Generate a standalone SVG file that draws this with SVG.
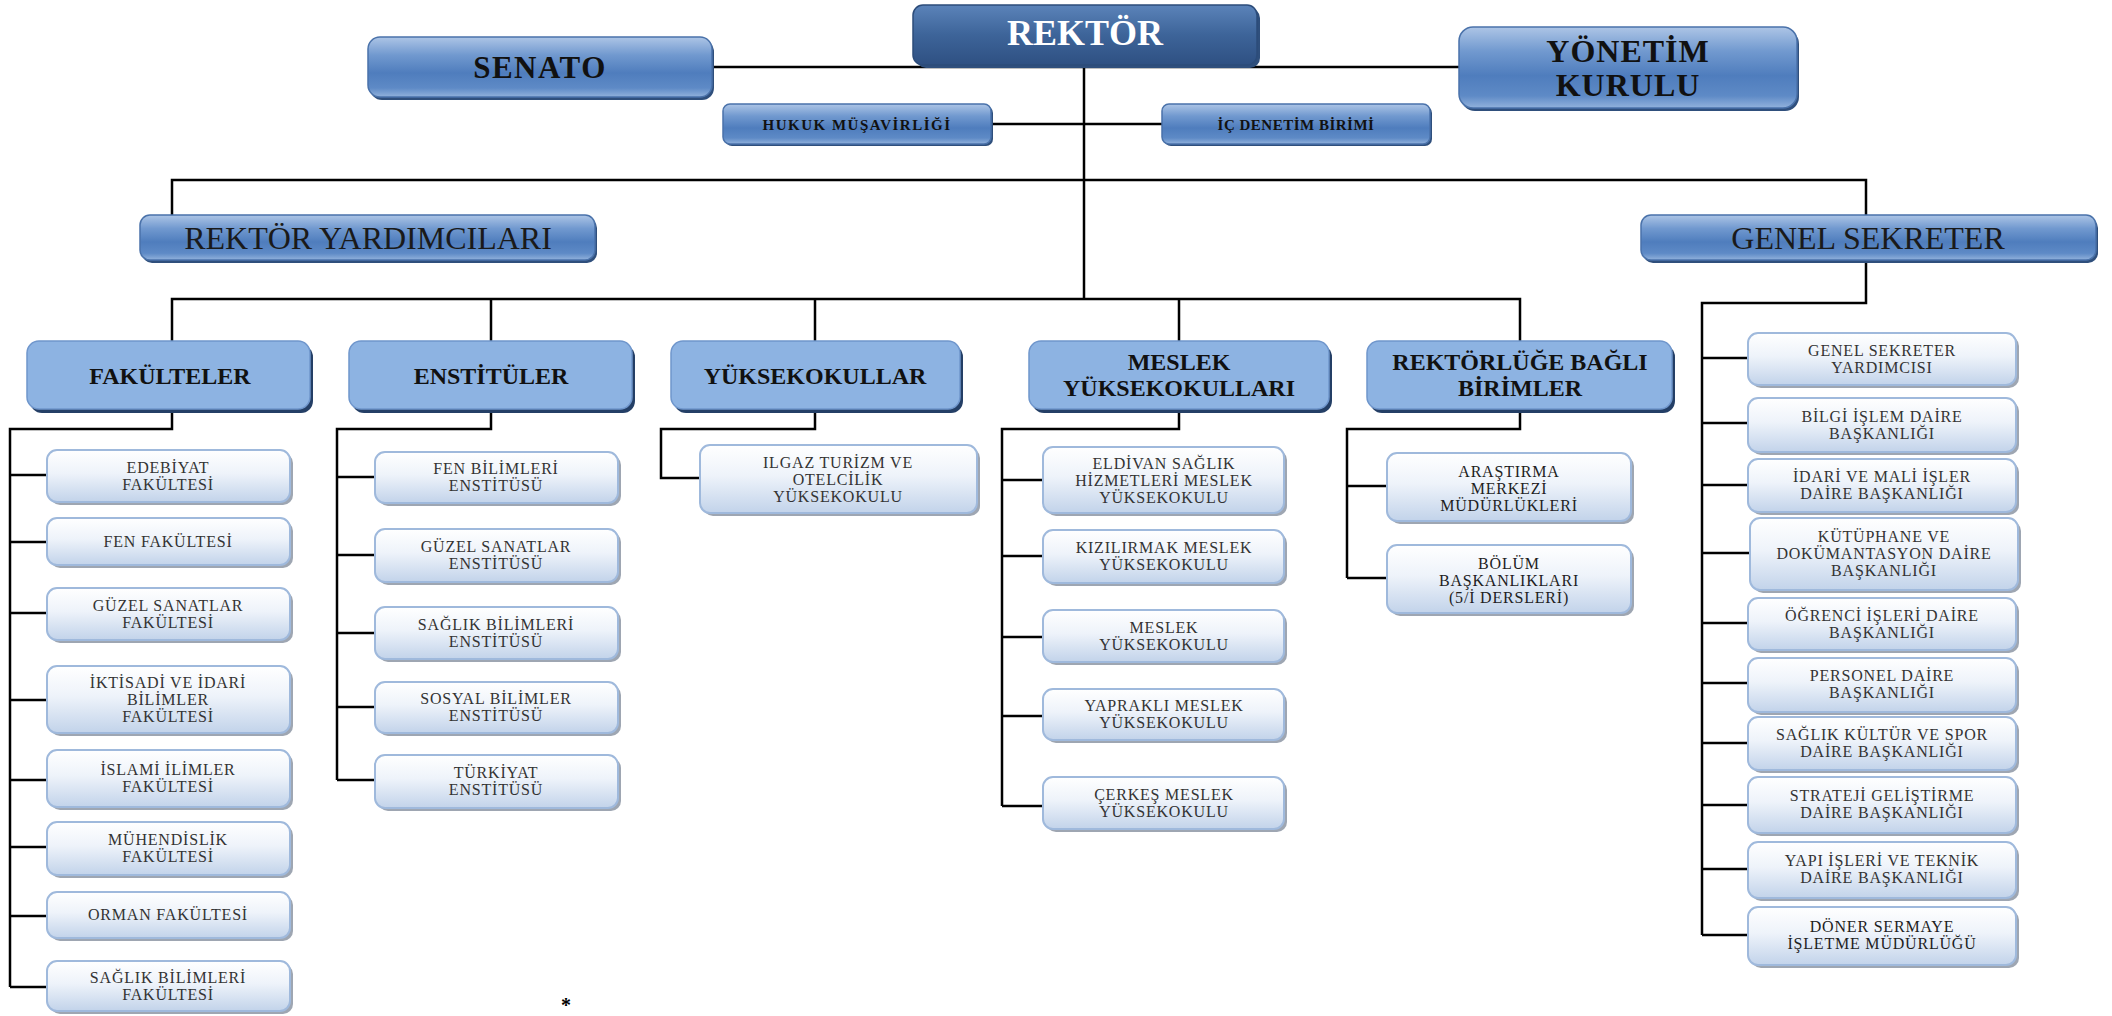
<svg xmlns="http://www.w3.org/2000/svg" width="2112" height="1016" viewBox="0 0 2112 1016" font-family="'Liberation Serif', 'DejaVu Serif', serif">
<defs>
<linearGradient id="gTop" x1="0" y1="0" x2="0" y2="1">
<stop offset="0" stop-color="#adc5e6"/><stop offset="0.3" stop-color="#7199cf"/><stop offset="0.6" stop-color="#4f7dbd"/><stop offset="0.85" stop-color="#5e8ac6"/><stop offset="1" stop-color="#92b2dc"/>
</linearGradient>
<linearGradient id="gRek" x1="0" y1="0" x2="0" y2="1">
<stop offset="0" stop-color="#5b83b9"/><stop offset="0.5" stop-color="#3d6499"/><stop offset="1" stop-color="#2e5082"/>
</linearGradient>
<linearGradient id="gSub" x1="0" y1="0" x2="0" y2="1">
<stop offset="0" stop-color="#ffffff"/><stop offset="0.45" stop-color="#eef3fa"/><stop offset="1" stop-color="#c2d3ea"/>
</linearGradient>
<style>
.topb{fill:url(#gTop);stroke:#4a72aa;stroke-width:1.5}
.rekb{fill:url(#gRek);stroke:#2c4c7a;stroke-width:1.5}
.tsh{fill:#2f4f7c}
.hdr{fill:#8db3e2;stroke:#6f96cc;stroke-width:1.5}
.hsh{fill:#243f66}
.sub{fill:url(#gSub);stroke:#9fb9dc;stroke-width:2}
.ssh{fill:#9ea6b2}
.ln{fill:none;stroke:#000;stroke-width:2.5}
text{font-family:'Liberation Serif','DejaVu Serif',serif;text-anchor:middle}
.tb{font-weight:bold;fill:#111}
.tr{fill:#1a1a1a}
.ts{font-size:16px;fill:#333;letter-spacing:0.8px}
.tsd{font-size:16px;fill:#1e1e1e;letter-spacing:0.8px}
</style>
</defs>
<rect width="2112" height="1016" fill="#ffffff"/>

<g id="connectors">
<path class="ln" d="M712 67 H1459"/>
<path class="ln" d="M1084 65 V299"/>
<path class="ln" d="M991 124 H1162"/>
<path class="ln" d="M172 215 V180 H1866 V215"/>
<path class="ln" d="M172 341 V299 H1520 V341 M491 299 V341 M815 299 V341 M1179 299 V341"/>
<path class="ln" d="M172 409 V429 H10 V987 M10 475 H47 M10 542 H47 M10 613 H47 M10 700 H47 M10 780 H47 M10 847 H47 M10 916 H47 M10 987 H47"/>
<path class="ln" d="M491 409 V429 H337 V780 M337 477 H375 M337 555 H375 M337 633 H375 M337 707 H375 M337 780 H375"/>
<path class="ln" d="M815 409 V429 H661 V478 H700"/>
<path class="ln" d="M1179 409 V429 H1002 V806 M1002 480 H1043 M1002 556 H1043 M1002 637 H1043 M1002 716 H1043 M1002 806 H1043"/>
<path class="ln" d="M1520 409 V429 H1347 V578 M1347 486 H1387 M1347 578 H1387"/>
<path class="ln" d="M1866 260 V303 H1702 V935 M1702 358 H1748 M1702 423 H1748 M1702 485 H1748 M1702 553 H1750 M1702 623 H1748 M1702 683 H1748 M1702 743 H1748 M1702 805 H1748 M1702 869 H1748 M1702 935 H1748"/>
</g>

<g id="rektor"><rect class="tsh" x="916" y="8" width="344" height="60" rx="10"/><rect class="rekb" x="913" y="5" width="344" height="60" rx="10"/><text x="1085" y="45" font-size="36" font-weight="bold" fill="#ffffff">REKTÖR</text></g>
<g id="senato"><rect class="tsh" x="370" y="40" width="344" height="60" rx="12"/><rect class="topb" x="368" y="37" width="344" height="60" rx="12"/><text class="tb" x="540" y="78" font-size="31" letter-spacing="1.5">SENATO</text></g>
<g id="yonetim"><rect class="tsh" x="1461" y="30" width="338" height="81" rx="14"/><rect class="topb" x="1459" y="27" width="338" height="81" rx="14"/><text class="tb" x="1628" y="62" font-size="32" letter-spacing="1">YÖNETİM</text><text class="tb" x="1628" y="96" font-size="32" letter-spacing="1">KURULU</text></g>
<g id="hukuk"><rect class="tsh" x="725" y="106" width="268" height="40" rx="7"/><rect class="topb" x="723" y="104" width="268" height="40" rx="7"/><text class="tb" x="857" y="130" font-size="15" letter-spacing="1.5">HUKUK MÜŞAVİRLİĞİ</text></g>
<g id="icdenetim"><rect class="tsh" x="1164" y="106" width="268" height="40" rx="7"/><rect class="topb" x="1162" y="104" width="268" height="40" rx="7"/><text class="tb" x="1296" y="130" font-size="15" letter-spacing="0.5">İÇ DENETİM BİRİMİ</text></g>
<g id="rektoryard"><rect class="tsh" x="142" y="218" width="455" height="45" rx="10"/><rect class="topb" x="140" y="215" width="455" height="45" rx="10"/><text class="tr" x="368" y="249" font-size="32">REKTÖR YARDIMCILARI</text></g>
<g id="genelsek"><rect class="tsh" x="1643" y="218" width="455" height="45" rx="10"/><rect class="topb" x="1641" y="215" width="455" height="45" rx="10"/><text class="tr" x="1868" y="249" font-size="32">GENEL SEKRETER</text></g>

<g id="fakulteler"><rect class="hsh" x="30" y="345" width="283" height="68" rx="12"/><rect class="hdr" x="27" y="341" width="283" height="68" rx="12"/><text class="tb" x="170" y="384" font-size="24">FAKÜLTELER</text></g>
<g id="enstituler"><rect class="hsh" x="352" y="345" width="283" height="68" rx="12"/><rect class="hdr" x="349" y="341" width="283" height="68" rx="12"/><text class="tb" x="491" y="384" font-size="24">ENSTİTÜLER</text></g>
<g id="yuksekokullar"><rect class="hsh" x="674" y="345" width="289" height="68" rx="12"/><rect class="hdr" x="671" y="341" width="289" height="68" rx="12"/><text class="tb" x="815" y="384" font-size="24">YÜKSEKOKULLAR</text></g>
<g id="meslekyo"><rect class="hsh" x="1032" y="345" width="300" height="68" rx="12"/><rect class="hdr" x="1029" y="341" width="300" height="68" rx="12"/><text class="tb" x="1179" y="370" font-size="24">MESLEK</text><text class="tb" x="1179" y="396" font-size="24">YÜKSEKOKULLARI</text></g>
<g id="rektorluge"><rect class="hsh" x="1370" y="345" width="305" height="68" rx="12"/><rect class="hdr" x="1367" y="341" width="305" height="68" rx="12"/><text class="tb" x="1520" y="370" font-size="24">REKTÖRLÜĞE BAĞLI</text><text class="tb" x="1520" y="396" font-size="24">BİRİMLER</text></g>

<g id="f1"><rect class="ssh" x="50" y="453" width="243" height="52" rx="10"/><rect class="sub" x="47" y="450" width="243" height="52" rx="10"/><text class="ts" x="168" y="473">EDEBİYAT</text><text class="ts" x="168" y="490">FAKÜLTESİ</text></g>
<g id="f2"><rect class="ssh" x="50" y="521" width="243" height="47" rx="10"/><rect class="sub" x="47" y="518" width="243" height="47" rx="10"/><text class="ts" x="168" y="547">FEN FAKÜLTESİ</text></g>
<g id="f3"><rect class="ssh" x="50" y="591" width="243" height="52" rx="10"/><rect class="sub" x="47" y="588" width="243" height="52" rx="10"/><text class="ts" x="168" y="611">GÜZEL SANATLAR</text><text class="ts" x="168" y="628">FAKÜLTESİ</text></g>
<g id="f4"><rect class="ssh" x="50" y="669" width="243" height="67" rx="10"/><rect class="sub" x="47" y="666" width="243" height="67" rx="10"/><text class="ts" x="168" y="688">İKTİSADİ VE İDARİ</text><text class="ts" x="168" y="705">BİLİMLER</text><text class="ts" x="168" y="722">FAKÜLTESİ</text></g>
<g id="f5"><rect class="ssh" x="50" y="753" width="243" height="57" rx="10"/><rect class="sub" x="47" y="750" width="243" height="57" rx="10"/><text class="ts" x="168" y="775">İSLAMİ İLİMLER</text><text class="ts" x="168" y="792">FAKÜLTESİ</text></g>
<g id="f6"><rect class="ssh" x="50" y="825" width="243" height="53" rx="10"/><rect class="sub" x="47" y="822" width="243" height="53" rx="10"/><text class="ts" x="168" y="845">MÜHENDİSLİK</text><text class="ts" x="168" y="862">FAKÜLTESİ</text></g>
<g id="f7"><rect class="ssh" x="50" y="895" width="243" height="46" rx="10"/><rect class="sub" x="47" y="892" width="243" height="46" rx="10"/><text class="ts" x="168" y="920">ORMAN FAKÜLTESİ</text></g>
<g id="f8"><rect class="ssh" x="50" y="964" width="243" height="50" rx="10"/><rect class="sub" x="47" y="961" width="243" height="50" rx="10"/><text class="ts" x="168" y="983">SAĞLIK BİLİMLERİ</text><text class="ts" x="168" y="1000">FAKÜLTESİ</text></g>

<g id="e1"><rect class="ssh" x="378" y="455" width="243" height="51" rx="10"/><rect class="sub" x="375" y="452" width="243" height="51" rx="10"/><text class="ts" x="496" y="474">FEN BİLİMLERİ</text><text class="ts" x="496" y="491">ENSTİTÜSÜ</text></g>
<g id="e2"><rect class="ssh" x="378" y="532" width="243" height="53" rx="10"/><rect class="sub" x="375" y="529" width="243" height="53" rx="10"/><text class="ts" x="496" y="552">GÜZEL SANATLAR</text><text class="ts" x="496" y="569">ENSTİTÜSÜ</text></g>
<g id="e3"><rect class="ssh" x="378" y="610" width="243" height="52" rx="10"/><rect class="sub" x="375" y="607" width="243" height="52" rx="10"/><text class="ts" x="496" y="630">SAĞLIK BİLİMLERİ</text><text class="ts" x="496" y="647">ENSTİTÜSÜ</text></g>
<g id="e4"><rect class="ssh" x="378" y="685" width="243" height="51" rx="10"/><rect class="sub" x="375" y="682" width="243" height="51" rx="10"/><text class="ts" x="496" y="704">SOSYAL BİLİMLER</text><text class="ts" x="496" y="721">ENSTİTÜSÜ</text></g>
<g id="e5"><rect class="ssh" x="378" y="758" width="243" height="53" rx="10"/><rect class="sub" x="375" y="755" width="243" height="53" rx="10"/><text class="ts" x="496" y="778">TÜRKİYAT</text><text class="ts" x="496" y="795">ENSTİTÜSÜ</text></g>

<g id="y1"><rect class="ssh" x="703" y="448" width="277" height="68" rx="10"/><rect class="sub" x="700" y="445" width="277" height="68" rx="10"/><text class="ts" x="838" y="468">ILGAZ TURİZM VE</text><text class="ts" x="838" y="485">OTELCİLİK</text><text class="ts" x="838" y="502">YÜKSEKOKULU</text></g>

<g id="m1"><rect class="ssh" x="1046" y="450" width="241" height="66" rx="10"/><rect class="sub" x="1043" y="447" width="241" height="66" rx="10"/><text class="ts" x="1164" y="469">ELDİVAN SAĞLIK</text><text class="ts" x="1164" y="486">HİZMETLERİ MESLEK</text><text class="ts" x="1164" y="503">YÜKSEKOKULU</text></g>
<g id="m2"><rect class="ssh" x="1046" y="533" width="241" height="53" rx="10"/><rect class="sub" x="1043" y="530" width="241" height="53" rx="10"/><text class="ts" x="1164" y="553">KIZILIRMAK MESLEK</text><text class="ts" x="1164" y="570">YÜKSEKOKULU</text></g>
<g id="m3"><rect class="ssh" x="1046" y="613" width="241" height="52" rx="10"/><rect class="sub" x="1043" y="610" width="241" height="52" rx="10"/><text class="ts" x="1164" y="633">MESLEK</text><text class="ts" x="1164" y="650">YÜKSEKOKULU</text></g>
<g id="m4"><rect class="ssh" x="1046" y="692" width="241" height="51" rx="10"/><rect class="sub" x="1043" y="689" width="241" height="51" rx="10"/><text class="ts" x="1164" y="711">YAPRAKLI MESLEK</text><text class="ts" x="1164" y="728">YÜKSEKOKULU</text></g>
<g id="m5"><rect class="ssh" x="1046" y="780" width="241" height="52" rx="10"/><rect class="sub" x="1043" y="777" width="241" height="52" rx="10"/><text class="ts" x="1164" y="800">ÇERKEŞ MESLEK</text><text class="ts" x="1164" y="817">YÜKSEKOKULU</text></g>

<g id="r1"><rect class="ssh" x="1390" y="456" width="244" height="68" rx="10"/><rect class="sub" x="1387" y="453" width="244" height="68" rx="10"/><text class="tsd" x="1509" y="477">ARAŞTIRMA</text><text class="tsd" x="1509" y="494">MERKEZİ</text><text class="tsd" x="1509" y="511">MÜDÜRLÜKLERİ</text></g>
<g id="r2"><rect class="ssh" x="1390" y="548" width="244" height="68" rx="10"/><rect class="sub" x="1387" y="545" width="244" height="68" rx="10"/><text class="tsd" x="1509" y="569">BÖLÜM</text><text class="tsd" x="1509" y="586">BAŞKANLIKLARI</text><text class="tsd" x="1509" y="603">(5/İ DERSLERİ)</text></g>

<g id="g1"><rect class="ssh" x="1751" y="336" width="268" height="52" rx="10"/><rect class="sub" x="1748" y="333" width="268" height="52" rx="10"/><text class="ts" x="1882" y="356">GENEL SEKRETER</text><text class="ts" x="1882" y="373">YARDIMCISI</text></g>
<g id="g2"><rect class="ssh" x="1751" y="401" width="268" height="54" rx="10"/><rect class="sub" x="1748" y="398" width="268" height="54" rx="10"/><text class="ts" x="1882" y="422">BİLGİ İŞLEM DAİRE</text><text class="ts" x="1882" y="439">BAŞKANLIĞI</text></g>
<g id="g3"><rect class="ssh" x="1751" y="462" width="268" height="53" rx="10"/><rect class="sub" x="1748" y="459" width="268" height="53" rx="10"/><text class="ts" x="1882" y="482">İDARİ VE MALİ İŞLER</text><text class="ts" x="1882" y="499">DAİRE BAŞKANLIĞI</text></g>
<g id="g4"><rect class="ssh" x="1753" y="521" width="268" height="72" rx="10"/><rect class="sub" x="1750" y="518" width="268" height="72" rx="10"/><text class="ts" x="1884" y="542">KÜTÜPHANE VE</text><text class="ts" x="1884" y="559">DOKÜMANTASYON DAİRE</text><text class="ts" x="1884" y="576">BAŞKANLIĞI</text></g>
<g id="g5"><rect class="ssh" x="1751" y="601" width="268" height="52" rx="10"/><rect class="sub" x="1748" y="598" width="268" height="52" rx="10"/><text class="ts" x="1882" y="621">ÖĞRENCİ İŞLERİ DAİRE</text><text class="ts" x="1882" y="638">BAŞKANLIĞI</text></g>
<g id="g6"><rect class="ssh" x="1751" y="661" width="268" height="54" rx="10"/><rect class="sub" x="1748" y="658" width="268" height="54" rx="10"/><text class="ts" x="1882" y="681">PERSONEL DAİRE</text><text class="ts" x="1882" y="698">BAŞKANLIĞI</text></g>
<g id="g7"><rect class="ssh" x="1751" y="720" width="268" height="53" rx="10"/><rect class="sub" x="1748" y="717" width="268" height="53" rx="10"/><text class="ts" x="1882" y="740">SAĞLIK KÜLTÜR VE SPOR</text><text class="ts" x="1882" y="757">DAİRE BAŞKANLIĞI</text></g>
<g id="g8"><rect class="ssh" x="1751" y="780" width="268" height="56" rx="10"/><rect class="sub" x="1748" y="777" width="268" height="56" rx="10"/><text class="ts" x="1882" y="801">STRATEJİ GELİŞTİRME</text><text class="ts" x="1882" y="818">DAİRE BAŞKANLIĞI</text></g>
<g id="g9"><rect class="ssh" x="1751" y="845" width="268" height="56" rx="10"/><rect class="sub" x="1748" y="842" width="268" height="56" rx="10"/><text class="ts" x="1882" y="866">YAPI İŞLERİ VE TEKNİK</text><text class="ts" x="1882" y="883">DAİRE BAŞKANLIĞI</text></g>
<g id="g10"><rect class="ssh" x="1751" y="910" width="268" height="58" rx="10"/><rect class="sub" x="1748" y="907" width="268" height="58" rx="10"/><text class="tsd" x="1882" y="932">DÖNER SERMAYE</text><text class="tsd" x="1882" y="949">İŞLETME MÜDÜRLÜĞÜ</text></g>

<text x="566" y="1012" font-size="20" font-weight="bold" fill="#000">*</text>
</svg>
